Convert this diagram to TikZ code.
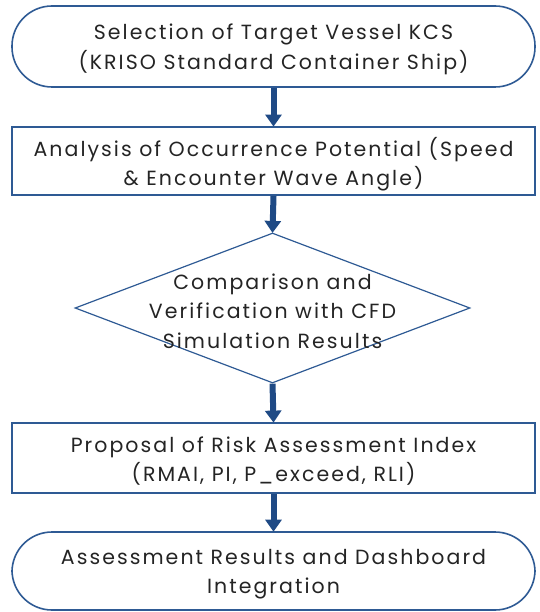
\documentclass[tikz,border=0pt]{standalone}
\usepackage{fontspec}
\setmainfont{Poppins}[LetterSpace=10]
\usetikzlibrary{arrows.meta,shapes.geometric}
\definecolor{edgeblue}{HTML}{2E5A94}
\definecolor{flowblue}{HTML}{1F4A85}
\definecolor{inktext}{HTML}{242424}
\begin{document}
\begin{tikzpicture}[x=1pt,y=-1pt,
  every node/.style={font=\fontsize{20.5}{29.5}\selectfont, text=inktext, align=center, inner sep=0pt},
  label text/.style={yshift=-3pt},
  terminal/.style={draw=edgeblue, line width=1.6pt, rounded corners=40pt, minimum width=523pt},
  process/.style={draw=edgeblue, line width=1.8pt, minimum width=523pt},
  decision/.style={diamond, draw=edgeblue, line width=1.2pt, minimum width=395pt, minimum height=150pt, inner sep=0pt},
  flow/.style={draw=flowblue, line width=6pt, -{Triangle[width=16pt,length=12pt]}, shorten >=-0.5pt}
]
\useasboundingbox (0,0) rectangle (539,612);
% flowchart shapes
\node[terminal, minimum height=81pt] (start) at (273.5,46.5) {};
\node[process, minimum height=68pt] (analysis) at (273.5,161) {};
\node[decision] (verify) at (272.5,308) {};
\node[process, minimum height=70pt] (index) at (273.5,458) {};
\node[terminal, minimum height=78pt] (result) at (273.5,571) {};
% their labels
\node[label text] (starttext) at (start.center)
  {Selection of Target Vessel KCS\\(KRISO Standard Container Ship)};
\node[label text] (analysistext) at (analysis.center)
  {Analysis of Occurrence Potential (Speed\\\& Encounter Wave Angle)};
\node[label text] (verifytext) at (verify.center)
  {Comparison and\\Verification with CFD\\Simulation Results};
\node[label text] (indextext) at (index.center)
  {Proposal of Risk Assessment Index\\(RMAI, PI, P\_exceed, RLI)};
\node[label text] (resulttext) at (result.center)
  {Assessment Results and Dashboard\\Integration};
% connectors
\draw[flow] (start.south) -- (analysis.north);
\draw[flow] (analysis.south) -- (verify.north);
\draw[flow] (verify.south) -- (index.north);
\draw[flow] (index.south) -- (result.north);
\end{tikzpicture}
\end{document}
